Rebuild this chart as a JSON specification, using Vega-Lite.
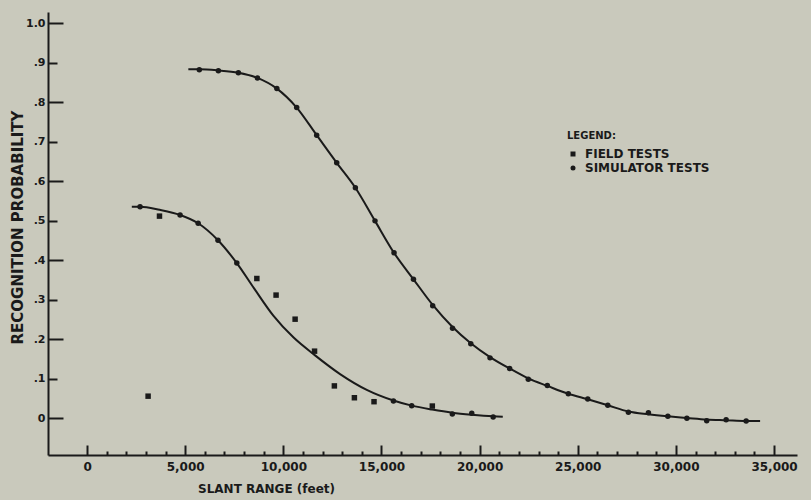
{
  "$schema": "https://vega.github.io/schema/vega-lite/v6.json",
  "width": 749,
  "height": 443,
  "autosize": {"type": "none"},
  "padding": {"left": 48, "top": 12, "right": 14, "bottom": 45},
  "background": "#c9c9bc",
  "datasets": {
    "points": [
      {"x": 5720, "p": 0.883, "test": "SIMULATOR TESTS"},
      {"x": 6690, "p": 0.880, "test": "SIMULATOR TESTS"},
      {"x": 7710, "p": 0.875, "test": "SIMULATOR TESTS"},
      {"x": 8680, "p": 0.862, "test": "SIMULATOR TESTS"},
      {"x": 9670, "p": 0.835, "test": "SIMULATOR TESTS"},
      {"x": 10680, "p": 0.787, "test": "SIMULATOR TESTS"},
      {"x": 11700, "p": 0.717, "test": "SIMULATOR TESTS"},
      {"x": 12720, "p": 0.647, "test": "SIMULATOR TESTS"},
      {"x": 13670, "p": 0.584, "test": "SIMULATOR TESTS"},
      {"x": 14670, "p": 0.500, "test": "SIMULATOR TESTS"},
      {"x": 15640, "p": 0.419, "test": "SIMULATOR TESTS"},
      {"x": 16630, "p": 0.352, "test": "SIMULATOR TESTS"},
      {"x": 17610, "p": 0.285, "test": "SIMULATOR TESTS"},
      {"x": 18620, "p": 0.228, "test": "SIMULATOR TESTS"},
      {"x": 19550, "p": 0.189, "test": "SIMULATOR TESTS"},
      {"x": 20530, "p": 0.153, "test": "SIMULATOR TESTS"},
      {"x": 21530, "p": 0.126, "test": "SIMULATOR TESTS"},
      {"x": 22480, "p": 0.099, "test": "SIMULATOR TESTS"},
      {"x": 23450, "p": 0.083, "test": "SIMULATOR TESTS"},
      {"x": 24520, "p": 0.062, "test": "SIMULATOR TESTS"},
      {"x": 25510, "p": 0.049, "test": "SIMULATOR TESTS"},
      {"x": 26530, "p": 0.033, "test": "SIMULATOR TESTS"},
      {"x": 27580, "p": 0.015, "test": "SIMULATOR TESTS"},
      {"x": 28600, "p": 0.014, "test": "SIMULATOR TESTS"},
      {"x": 29590, "p": 0.005, "test": "SIMULATOR TESTS"},
      {"x": 30560, "p": 0.000, "test": "SIMULATOR TESTS"},
      {"x": 31570, "p": -0.006, "test": "SIMULATOR TESTS"},
      {"x": 32560, "p": -0.004, "test": "SIMULATOR TESTS"},
      {"x": 33580, "p": -0.007, "test": "SIMULATOR TESTS"},
      {"x": 2700, "p": 0.536, "test": "SIMULATOR TESTS"},
      {"x": 4740, "p": 0.515, "test": "SIMULATOR TESTS"},
      {"x": 5660, "p": 0.494, "test": "SIMULATOR TESTS"},
      {"x": 6670, "p": 0.451, "test": "SIMULATOR TESTS"},
      {"x": 7630, "p": 0.393, "test": "SIMULATOR TESTS"},
      {"x": 15610, "p": 0.044, "test": "SIMULATOR TESTS"},
      {"x": 16540, "p": 0.032, "test": "SIMULATOR TESTS"},
      {"x": 18610, "p": 0.011, "test": "SIMULATOR TESTS"},
      {"x": 19600, "p": 0.013, "test": "SIMULATOR TESTS"},
      {"x": 20690, "p": 0.003, "test": "SIMULATOR TESTS"},
      {"x": 3690, "p": 0.512, "test": "FIELD TESTS"},
      {"x": 8650, "p": 0.354, "test": "FIELD TESTS"},
      {"x": 9630, "p": 0.312, "test": "FIELD TESTS"},
      {"x": 10600, "p": 0.251, "test": "FIELD TESTS"},
      {"x": 11590, "p": 0.170, "test": "FIELD TESTS"},
      {"x": 12600, "p": 0.082, "test": "FIELD TESTS"},
      {"x": 13620, "p": 0.052, "test": "FIELD TESTS"},
      {"x": 14620, "p": 0.042, "test": "FIELD TESTS"},
      {"x": 17590, "p": 0.031, "test": "FIELD TESTS"},
      {"x": 3110, "p": 0.056, "test": "FIELD TESTS"}
    ],
    "curves": [
      {"x": 5160, "p": 0.884, "curve": "simulator"},
      {"x": 5720, "p": 0.884, "curve": "simulator"},
      {"x": 6690, "p": 0.881, "curve": "simulator"},
      {"x": 7710, "p": 0.875, "curve": "simulator"},
      {"x": 8680, "p": 0.862, "curve": "simulator"},
      {"x": 9670, "p": 0.835, "curve": "simulator"},
      {"x": 10680, "p": 0.787, "curve": "simulator"},
      {"x": 11700, "p": 0.717, "curve": "simulator"},
      {"x": 12720, "p": 0.647, "curve": "simulator"},
      {"x": 13670, "p": 0.584, "curve": "simulator"},
      {"x": 14670, "p": 0.500, "curve": "simulator"},
      {"x": 15640, "p": 0.419, "curve": "simulator"},
      {"x": 16630, "p": 0.352, "curve": "simulator"},
      {"x": 17610, "p": 0.287, "curve": "simulator"},
      {"x": 18620, "p": 0.231, "curve": "simulator"},
      {"x": 19550, "p": 0.190, "curve": "simulator"},
      {"x": 20530, "p": 0.155, "curve": "simulator"},
      {"x": 21530, "p": 0.126, "curve": "simulator"},
      {"x": 22480, "p": 0.101, "curve": "simulator"},
      {"x": 23450, "p": 0.082, "curve": "simulator"},
      {"x": 24520, "p": 0.062, "curve": "simulator"},
      {"x": 25510, "p": 0.048, "curve": "simulator"},
      {"x": 26530, "p": 0.033, "curve": "simulator"},
      {"x": 27580, "p": 0.017, "curve": "simulator"},
      {"x": 28600, "p": 0.010, "curve": "simulator"},
      {"x": 29590, "p": 0.005, "curve": "simulator"},
      {"x": 30560, "p": 0.001, "curve": "simulator"},
      {"x": 31570, "p": -0.003, "curve": "simulator"},
      {"x": 32560, "p": -0.005, "curve": "simulator"},
      {"x": 33580, "p": -0.007, "curve": "simulator"},
      {"x": 34290, "p": -0.007, "curve": "simulator"},
      {"x": 2280, "p": 0.536, "curve": "field"},
      {"x": 2700, "p": 0.536, "curve": "field"},
      {"x": 3700, "p": 0.528, "curve": "field"},
      {"x": 4740, "p": 0.515, "curve": "field"},
      {"x": 5660, "p": 0.494, "curve": "field"},
      {"x": 6670, "p": 0.451, "curve": "field"},
      {"x": 7630, "p": 0.393, "curve": "field"},
      {"x": 8510, "p": 0.329, "curve": "field"},
      {"x": 9490, "p": 0.260, "curve": "field"},
      {"x": 10510, "p": 0.205, "curve": "field"},
      {"x": 11600, "p": 0.160, "curve": "field"},
      {"x": 12890, "p": 0.112, "curve": "field"},
      {"x": 14250, "p": 0.072, "curve": "field"},
      {"x": 15610, "p": 0.045, "curve": "field"},
      {"x": 16540, "p": 0.032, "curve": "field"},
      {"x": 17580, "p": 0.022, "curve": "field"},
      {"x": 18610, "p": 0.014, "curve": "field"},
      {"x": 19600, "p": 0.009, "curve": "field"},
      {"x": 20690, "p": 0.005, "curve": "field"},
      {"x": 21180, "p": 0.004, "curve": "field"}
    ]
  },
  "encoding": {
    "x": {
      "field": "x",
      "type": "quantitative",
      "scale": {"domain": [-1990, 36170], "nice": false, "zero": false},
      "axis": {
        "values": [0,1000,2000,3000,4000,5000,6000,7000,8000,9000,10000,11000,12000,13000,14000,15000,16000,17000,18000,19000,20000,21000,22000,23000,24000,25000,26000,27000,28000,29000,30000,31000,32000,33000,34000,35000],
        "labelExpr": "datum.value % 5000 == 0 ? format(datum.value, ',') : ''",
        "tickSize": {"condition": {"test": "datum.value % 5000 == 0", "value": -10}, "value": -4},
        "labelPadding": {"condition": {"test": "datum.value % 5000 == 0", "value": 16}, "value": 10},
        "labelFontSize": 12,
        "labelOverlap": false,
        "labelFlush": false,
        "title": "SLANT RANGE (feet)",
        "titleFontSize": 12,
        "titleX": 218,
        "titleY": 28,
        "titleBaseline": "top",
        "titleAlign": "center"
      }
    },
    "y": {
      "field": "p",
      "type": "quantitative",
      "scale": {"domain": [-0.093, 1.029], "nice": false, "zero": false},
      "axis": {
        "values": [0, 0.1, 0.2, 0.3, 0.4, 0.5, 0.6, 0.7, 0.8, 0.9, 1.0],
        "labelExpr": "datum.value == 0 ? '0' : (datum.value >= 0.99 ? '1.0' : replace(format(datum.value, '.1f'), '0.', '.'))",
        "tickSize": {"condition": {"test": "round(datum.value * 10) % 2 == 0", "value": -15}, "value": -9},
        "labelPadding": {"condition": {"test": "round(datum.value * 10) % 2 == 0", "value": 18}, "value": 12},
        "labelFontSize": 11,
        "labelOverlap": false,
        "labelFlush": false,
        "title": "RECOGNITION PROBABILITY",
        "titleFontSize": 15,
        "titleX": -31,
        "titleY": 215,
        "titleBaseline": "middle",
        "titleAlign": "center",
        "titleAngle": 270
      }
    }
  },
  "layer": [
    {
      "data": {"name": "curves"},
      "mark": {"type": "line", "interpolate": "monotone", "color": "#1a1a1a", "strokeWidth": 2},
      "encoding": {"detail": {"field": "curve", "type": "nominal"}}
    },
    {
      "data": {"name": "points"},
      "mark": {"type": "point", "filled": true, "color": "#1a1a1a", "opacity": 1, "size": 30},
      "encoding": {
        "shape": {
          "field": "test",
          "type": "nominal",
          "scale": {"domain": ["FIELD TESTS", "SIMULATOR TESTS"], "range": ["square", "circle"]},
          "legend": {
            "title": "LEGEND:",
            "orient": "none",
            "legendX": 519,
            "legendY": 119,
            "padding": 0,
            "titleFontSize": 10,
            "titlePadding": 7,
            "labelFontSize": 12,
            "rowPadding": 2,
            "symbolSize": 25,
            "symbolOffset": 0,
            "labelOffset": 6,
            "symbolFillColor": "#1a1a1a",
            "symbolStrokeColor": "#1a1a1a"
          }
        }
      }
    }
  ],
  "config": {
    "view": {"stroke": null},
    "axis": {
      "grid": false,
      "domainColor": "#1a1a1a",
      "domainWidth": 2,
      "tickColor": "#1a1a1a",
      "tickWidth": 2,
      "labelColor": "#1a1a1a",
      "titleColor": "#1a1a1a",
      "labelFont": "DejaVu Sans",
      "labelFontWeight": "bold",
      "titleFont": "DejaVu Sans",
      "titleFontWeight": "bold"
    },
    "legend": {
      "titleFont": "DejaVu Sans",
      "titleFontWeight": "bold",
      "titleColor": "#1a1a1a",
      "labelFont": "DejaVu Sans",
      "labelFontWeight": "bold",
      "labelColor": "#1a1a1a"
    }
  }
}
